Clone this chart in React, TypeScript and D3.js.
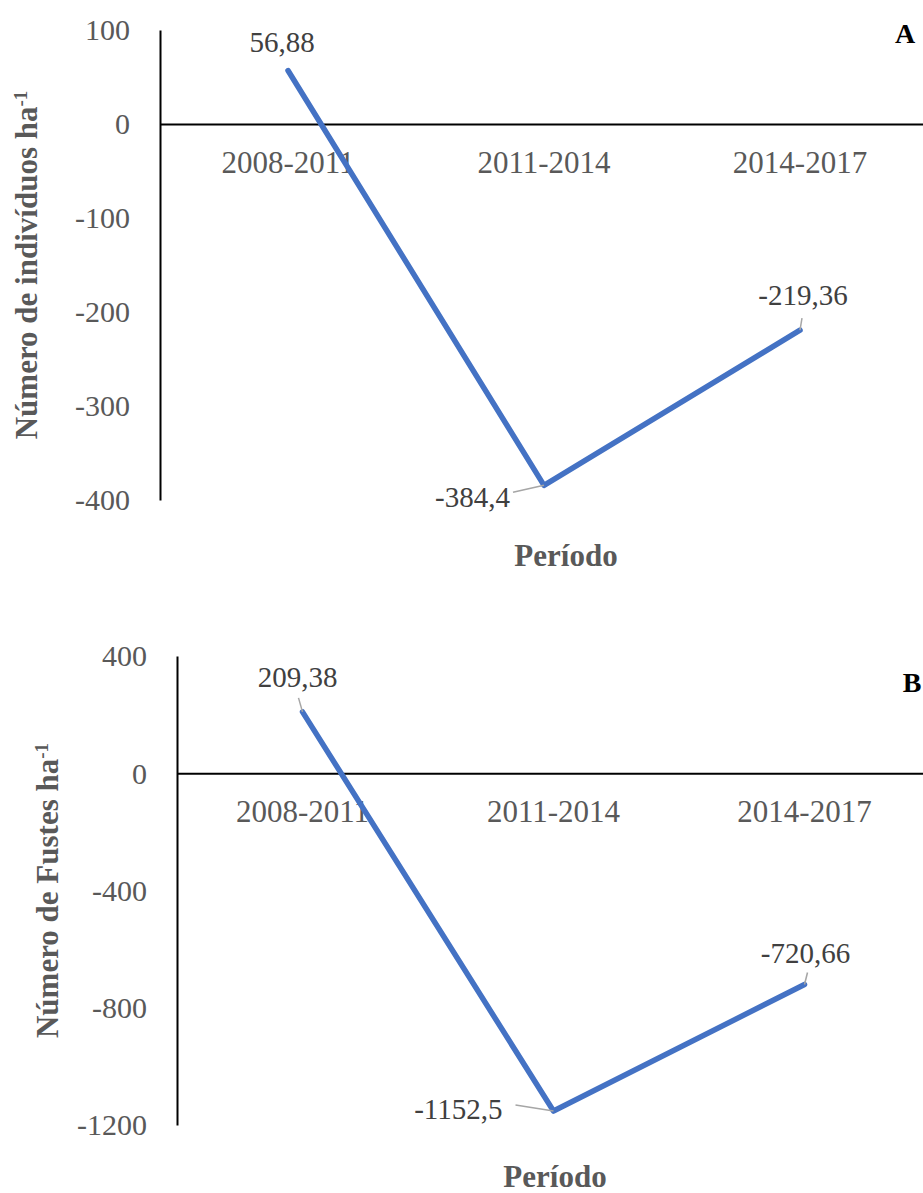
import React, { useEffect, useRef } from "react";
import * as d3 from "d3";

// Períodos de medição
const categories = ["2008-2011", "2011-2014", "2014-2017"];

// Variação do número de indivíduos ha-1 (painel A)
const individuos = [56.88, -384.4, -219.36];
const ticksA = [100, 0, -100, -200, -300, -400];

// Variação do número de fustes ha-1 (painel B)
const fustes = [209.38, -1152.5, -720.66];
const ticksB = [400, 0, -400, -800, -1200];

const W = 923;
const H = 1193;
const FONT = "'Liberation Serif', 'Times New Roman', serif";
const GREY = "#595959";
const BLUE = "#4472C4";

interface PanelCfg {
  values: number[];
  ticks: number[];
  left: number;
  right: number;
  top: number;
  bottom: number;
  title: string;
  titleX: number;
  xTitleX: number;
  xTitleY: number;
  letter: string;
  letterX: number;
  letterY: number;
  // position of data labels relative to their point: [dx, dy, anchor, leader]
  labels: [number, number, string, [number, number] | null][];
}

const panels: PanelCfg[] = [
  {
    values: individuos,
    ticks: ticksA,
    left: 160,
    right: 928,
    top: 30,
    bottom: 500,
    title: "Número de indivíduos ha",
    titleX: 26,
    xTitleX: 566,
    xTitleY: 555,
    letter: "A",
    letterX: 905,
    letterY: 33,
    labels: [
      [-6, -29, "middle", null],
      [-34, 12, "end", [-31, 7]],
      [3, -35, "middle", [2, -12]],
    ],
  },
  {
    values: fustes,
    ticks: ticksB,
    left: 177,
    right: 930,
    top: 656,
    bottom: 1125,
    title: "Número de Fustes ha",
    titleX: 47,
    xTitleX: 555,
    xTitleY: 1176,
    letter: "B",
    letterX: 912,
    letterY: 682,
    labels: [
      [-5, -35, "middle", [-4, -14]],
      [-51, -2, "end", [-38, -6]],
      [1, -32, "middle", [3, -12]],
    ],
  },
];

const fmt = (v: number) => String(v).replace(".", ",");

const App: React.FC = () => {
  const svgRef = useRef<SVGSVGElement | null>(null);

  useEffect(() => {
    if (!svgRef.current) return;
    const svg = d3.select(svgRef.current);
    svg.selectAll("*").remove();

    panels.forEach((p) => {
      const g = svg.append("g");

      const x = d3
        .scaleBand<string>()
        .domain(categories)
        .range([p.left, p.right])
        .padding(0);

      const y = d3
        .scaleLinear()
        .domain([d3.min(p.ticks)!, d3.max(p.ticks)!])
        .range([p.bottom, p.top]);

      // Eixo Y (sem marcas)
      const yAxis = g
        .append("g")
        .attr("transform", `translate(${p.left},0)`)
        .call(
          d3
            .axisLeft(y)
            .tickValues(p.ticks)
            .tickSize(0)
            .tickSizeOuter(0)
            .tickPadding(30)
            .tickFormat((d) => String(d))
        );
      yAxis.select(".domain").attr("stroke", "#000").attr("stroke-width", 2);
      yAxis
        .selectAll("text")
        .attr("fill", GREY)
        .style("font-family", FONT)
        .style("font-size", "30px")
        .attr("dy", "0.33em");

      // Linha do zero + categorias
      const xAxis = g
        .append("g")
        .attr("transform", `translate(0,${y(0)})`)
        .call(d3.axisBottom(x).tickSize(0).tickSizeOuter(0).tickPadding(0));
      xAxis.select(".domain").attr("stroke", "#000").attr("stroke-width", 2);
      xAxis
        .selectAll("text")
        .attr("fill", GREY)
        .attr("y", 38)
        .attr("dy", "0.35em")
        .style("font-family", FONT)
        .style("font-size", "31px");

      // Série
      const cx = (i: number) => x(categories[i])! + x.bandwidth() / 2;
      const line = d3
        .line<number>()
        .x((_, i) => cx(i))
        .y((d) => y(d));

      g.append("path")
        .datum(p.values)
        .attr("d", line)
        .attr("fill", "none")
        .attr("stroke", BLUE)
        .attr("stroke-width", 5.5)
        .attr("stroke-linejoin", "round")
        .attr("stroke-linecap", "round");

      // Rótulos de dados
      p.values.forEach((v, i) => {
        const [dx, dy, anchor, leader] = p.labels[i];
        const px = cx(i);
        const py = y(v);
        if (leader) {
          g.append("line")
            .attr("x1", px)
            .attr("y1", py)
            .attr("x2", px + leader[0])
            .attr("y2", py + leader[1])
            .attr("stroke", "#A6A6A6")
            .attr("stroke-width", 1.5);
        }
        g.append("text")
          .attr("x", px + dx)
          .attr("y", py + dy)
          .attr("dy", "0.35em")
          .attr("text-anchor", anchor)
          .attr("fill", "#404040")
          .style("font-family", FONT)
          .style("font-size", "29px")
          .text(fmt(v));
      });

      // Títulos dos eixos
      const yMid = (p.top + p.bottom) / 2;
      const t = g
        .append("text")
        .attr("transform", `translate(${p.titleX},${yMid}) rotate(-90)`)
        .attr("text-anchor", "middle")
        .attr("dy", "0.35em")
        .attr("fill", GREY)
        .style("font-family", FONT)
        .style("font-size", "31px")
        .style("font-weight", "bold");
      t.append("tspan").text(p.title);
      t.append("tspan").attr("baseline-shift", "super").style("font-size", "19px").text("-1");

      g.append("text")
        .attr("x", p.xTitleX)
        .attr("y", p.xTitleY)
        .attr("dy", "0.35em")
        .attr("text-anchor", "middle")
        .attr("fill", GREY)
        .style("font-family", FONT)
        .style("font-size", "31px")
        .style("font-weight", "bold")
        .text("Período");

      g.append("text")
        .attr("x", p.letterX)
        .attr("y", p.letterY)
        .attr("dy", "0.35em")
        .attr("text-anchor", "middle")
        .attr("fill", "#000")
        .style("font-family", FONT)
        .style("font-size", "28px")
        .style("font-weight", "bold")
        .text(p.letter);
    });
  }, []);

  return (
    <svg
      ref={svgRef}
      width={W}
      height={H}
      style={{ position: "absolute", left: 0, top: 0, background: "#fff" }}
    ></svg>
  );
};

export default App;
